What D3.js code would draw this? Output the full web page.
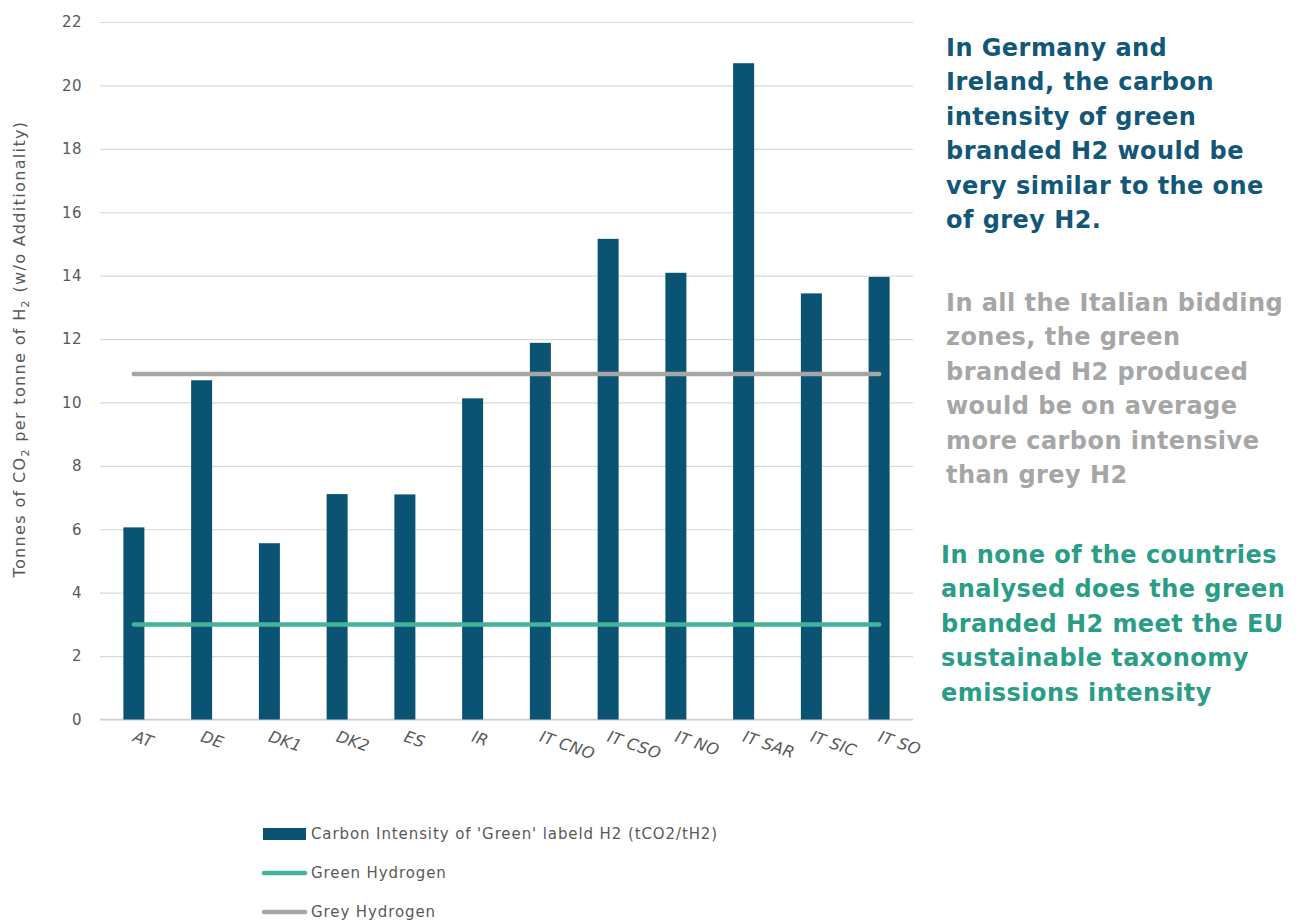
<!DOCTYPE html>
<html>
<head>
<meta charset="utf-8">
<script src="https://cdn.jsdelivr.net/npm/d3@7"></script>
<style>
  html, body { margin: 0; padding: 0; background: #ffffff; }
  svg { display: block; }
</style>
</head>
<body>
<svg id="chart" width="1300" height="922"></svg>
<script>
// Bidding zones / countries
const categories = ["AT", "DE", "DK1", "DK2", "ES", "IR", "IT CNO", "IT CSO", "IT NO", "IT SAR", "IT SIC", "IT SO"];
// Carbon intensity of 'green' labelled H2 (tCO2/tH2)
const carbonIntensity = [6.06, 10.70, 5.56, 7.11, 7.10, 10.13, 11.88, 15.16, 14.09, 20.70, 13.44, 13.96];
// Reference levels
const greenHydrogen = categories.map(() => 3.0);
const greyHydrogen = categories.map(() => 10.9);
const yTicks = [0, 2, 4, 6, 8, 10, 12, 14, 16, 18, 20, 22];

const seriesNames = ["Carbon Intensity of 'Green' labeld H2 (tCO2/tH2)", "Green Hydrogen", "Grey Hydrogen"];

const notes = [
  { lines: ["In Germany and", "Ireland, the carbon", "intensity of green", "branded H2 would be", "very similar to the one", "of grey H2."], color: "#135778", x: 946, y: 56 },
  { lines: ["In all the Italian bidding", "zones, the green", "branded H2 produced", "would be on average", "more carbon intensive", "than grey H2"], color: "#a6a6a6", x: 946, y: 311 },
  { lines: ["In none of the countries", "analysed does the green", "branded H2 meet the EU", "sustainable taxonomy", "emissions intensity"], color: "#2a9d86", x: 941, y: 563 }
];

const colors = { bar: "#0b5372", green: "#45b39a", grey: "#a6a6a6", grid: "#d9d9d9", text: "#595959" };
const axisFont = "'DejaVu Sans', 'Noto Sans', sans-serif";

const svg = d3.select("#chart");

const x = d3.scaleBand().domain(categories).range([100, 913]).paddingInner(0.69).paddingOuter(0.345);
const y = d3.scaleLinear().domain([0, 22]).range([719.5, 22]);

// Gridlines
const yAxis = d3.axisLeft(y).tickValues(yTicks).tickSize(-(913 - 100)).tickPadding(18);
const gy = svg.append("g").attr("transform", "translate(100,0)").call(yAxis);
gy.select(".domain").remove();
gy.selectAll(".tick line").attr("stroke", colors.grid).attr("stroke-width", 1.2);
gy.selectAll(".tick text").attr("fill", colors.text).attr("font-family", axisFont)
  .attr("font-size", 15).attr("letter-spacing", 0.5);

// Baseline
svg.append("line").attr("x1", 100).attr("x2", 913).attr("y1", y(0)).attr("y2", y(0))
  .attr("stroke", "#d0d0d0").attr("stroke-width", 1.5);

// Bars
svg.append("g").selectAll("rect").data(categories).join("rect")
  .attr("x", d => x(d))
  .attr("y", (d, i) => y(carbonIntensity[i]))
  .attr("width", x.bandwidth())
  .attr("height", (d, i) => y(0) - y(carbonIntensity[i]))
  .attr("fill", colors.bar);

// Reference lines
const line = d3.line().x(d => x(d[0]) + x.bandwidth() / 2).y(d => y(d[1]));
svg.append("path").datum(categories.map((c, i) => [c, greyHydrogen[i]]))
  .attr("d", line).attr("fill", "none").attr("stroke", colors.grey)
  .attr("stroke-width", 4.5).attr("stroke-linecap", "round");
svg.append("path").datum(categories.map((c, i) => [c, greenHydrogen[i]]))
  .attr("d", line).attr("fill", "none").attr("stroke", colors.green)
  .attr("stroke-width", 4.5).attr("stroke-linecap", "round");

// Category labels (rotated)
svg.append("g").selectAll("text").data(categories).join("text")
  .attr("transform", d => `translate(${x(d) + x.bandwidth() / 2 - 2},${741}) rotate(19)`)
  .attr("fill", colors.text).attr("font-family", axisFont).attr("font-size", 16)
  .attr("font-style", "italic").attr("letter-spacing", 0.3)
  .text(d => d);

// Y axis title
const yt = svg.append("text")
  .attr("transform", `translate(25,${349}) rotate(-90)`)
  .attr("text-anchor", "middle")
  .attr("fill", colors.text).attr("font-family", axisFont).attr("font-size", 16)
  .attr("letter-spacing", 1.35);
yt.append("tspan").text("Tonnes of CO");
yt.append("tspan").attr("font-size", 11).attr("dy", 4).text("2");
yt.append("tspan").attr("dy", -4).text(" per tonne of H");
yt.append("tspan").attr("font-size", 11).attr("dy", 4).text("2");
yt.append("tspan").attr("dy", -4).text(" (w/o Additionality)");

// Legend
const legend = svg.append("g");
const legY = [834, 873, 912];
legend.append("rect").attr("x", 263).attr("y", legY[0] - 6).attr("width", 43).attr("height", 12).attr("fill", colors.bar);
legend.append("line").attr("x1", 264).attr("x2", 305).attr("y1", legY[1]).attr("y2", legY[1])
  .attr("stroke", colors.green).attr("stroke-width", 4.5).attr("stroke-linecap", "round");
legend.append("line").attr("x1", 264).attr("x2", 305).attr("y1", legY[2]).attr("y2", legY[2])
  .attr("stroke", colors.grey).attr("stroke-width", 4.5).attr("stroke-linecap", "round");
legend.selectAll("text").data(seriesNames).join("text")
  .attr("x", 311).attr("y", (d, i) => legY[i]).attr("dy", "0.35em")
  .attr("fill", colors.text).attr("font-family", axisFont).attr("font-size", 15)
  .attr("letter-spacing", 0.9)
  .text(d => d);

// Side notes
notes.forEach(n => {
  const t = svg.append("text").attr("fill", n.color)
    .attr("font-family", "'DejaVu Sans', sans-serif").attr("font-weight", "bold")
    .attr("font-size", 24).attr("letter-spacing", 0.45);
  n.lines.forEach((l, i) => {
    t.append("tspan").attr("x", n.x).attr("y", n.y + i * 34.4).text(l);
  });
});
</script>
</body>
</html>
